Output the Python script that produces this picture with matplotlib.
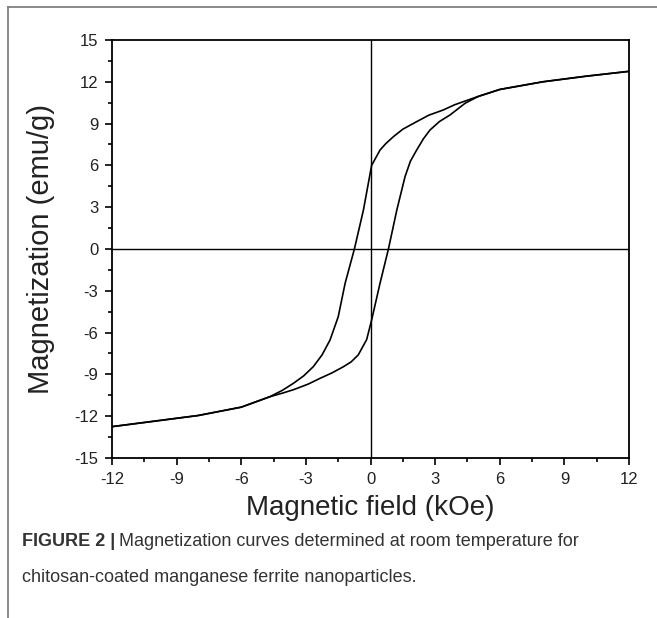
import numpy as np
import matplotlib
matplotlib.use('Agg')
import matplotlib.pyplot as plt
from matplotlib.ticker import MultipleLocator
from matplotlib.lines import Line2D

plt.rcParams['font.family'] = ['Liberation Sans', 'DejaVu Sans']
plt.rcParams['axes.unicode_minus'] = False

# descending branch (+12 -> -12 kOe)
h_down = [12, 10, 8, 6, 5, 4.54, 3.9, 3.38, 2.7, 2.14, 1.5, 1.06, 0.7, 0.44, 0.05, -0.33,
          -0.75, -1.18, -1.5, -1.88, -2.25, -2.66, -3.1, -3.58, -4.1, -4.67, -6, -8, -10, -12]
m_down = [12.75, 12.4, 12.0, 11.45, 10.95, 10.7, 10.35, 9.98, 9.6, 9.14, 8.6, 8.06, 7.55, 7.1,
          6.0, 2.8, 0, -2.46, -4.86, -6.53, -7.6, -8.45, -9.1, -9.64, -10.15, -10.6, -11.35,
          -11.95, -12.35, -12.75]

# ascending branch (-12 -> +12 kOe)
h_up = [-12, -10, -8, -6, -4.67, -4.1, -3.58, -2.9, -2.34, -1.8, -1.26, -0.9, -0.57, -0.18,
        0.05, 0.44, 0.83, 1.22, 1.6, 1.85, 2.14, 2.45, 2.76, 3.2, 3.69, 4.39, 5, 6, 8, 10, 12]
m_up = [-12.75, -12.35, -11.95, -11.35, -10.6, -10.35, -10.1, -9.7, -9.28, -8.9, -8.45, -8.1,
        -7.6, -6.5, -5.1, -2.46, 0, 2.8, 5.19, 6.3, 7.1, 7.9, 8.54, 9.15, 9.62, 10.46, 10.95,
        11.45, 12.0, 12.4, 12.75]

xticks = [-12, -9, -6, -3, 0, 3, 6, 9, 12]
yticks = [-15, -12, -9, -6, -3, 0, 3, 6, 9, 12, 15]

fig = plt.figure(figsize=(6.57, 6.18), dpi=100)
ax = fig.add_axes([0.1705, 0.2589, 0.787, 0.6764])

ax.axhline(0, color='black', lw=1.0)
ax.axvline(0, color='black', lw=1.0)
ax.plot(h_down, m_down, color='black', lw=1.2)
ax.plot(h_up, m_up, color='black', lw=1.2)

ax.set_xlim(-12, 12)
ax.set_ylim(-15, 15)
ax.set_xticks(xticks)
ax.set_yticks(yticks)
ax.xaxis.set_minor_locator(MultipleLocator(1.5))
ax.yaxis.set_minor_locator(MultipleLocator(1.5))
ax.tick_params(which='major', direction='out', length=5, width=1.2, labelsize=12,
               colors='black', labelcolor='#222222', pad=5)
ax.tick_params(which='minor', direction='out', length=3, width=1.2)
for s in ax.spines.values():
    s.set_linewidth(1.3)

ax.set_xlabel('Magnetic field (kOe)', fontsize=20, color='#222222', labelpad=6)
ax.set_ylabel('Magnetization (emu/g)', fontsize=21, color='#222222', labelpad=14)

# frame lines of the figure panel
fig.add_artist(Line2D([8/657, 1], [1 - 7/618, 1 - 7/618], color='#808080', lw=1.3))
fig.add_artist(Line2D([8/657, 8/657], [0, 1 - 7/618], color='#808080', lw=1.3))

cap_font = ['Liberation Sans', 'DejaVu Sans']
t1 = fig.text(22/657, 1 - 541/618, 'FIGURE 2 |', fontsize=13, fontweight='bold',
              color='#333333', va='center', family=cap_font)
fig.canvas.draw()
bb = t1.get_window_extent()
x2 = (bb.x1 + 4) / fig.bbox.width
fig.text(x2, 1 - 541/618, 'Magnetization curves determined at room temperature for',
         fontsize=13, color='#333333', va='center', family=cap_font)
fig.text(22/657, 1 - 577/618, 'chitosan-coated manganese ferrite nanoparticles.',
         fontsize=13, color='#333333', va='center', family=cap_font)

fig.savefig('out.png', dpi=100)
